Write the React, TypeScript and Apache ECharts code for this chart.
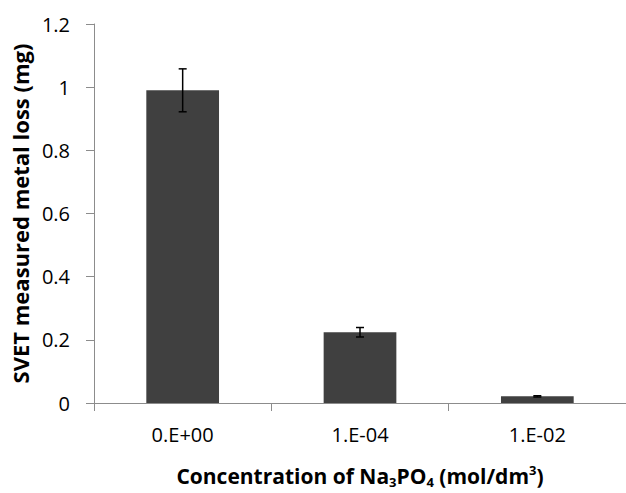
import React, { useEffect, useRef } from "react";
import * as echarts from "echarts";

const categories = ["0.E+00", "1.E-04", "1.E-02"];
const values = [0.99, 0.224, 0.021];
const errors = [0.068, 0.015, 0.002];
const yTicks = { min: 0, max: 1.2, interval: 0.2 };

export default function App() {
  const ref = useRef<HTMLDivElement>(null);
  useEffect(() => {
    if (!ref.current) return;
    const chart = echarts.init(ref.current, null, { renderer: "svg" });
    const errData = values.map((v, i) => [i, v - errors[i], v + errors[i]]);
    const font = "'Open Sans', 'Liberation Sans', sans-serif";
    chart.setOption({
      animation: false,
      backgroundColor: "#ffffff",
      grid: { left: 94, top: 24, right: -10, bottom: 80, containLabel: false },
      xAxis: {
        type: "category",
        data: categories,
        axisLine: { show: true, lineStyle: { color: "#8c8c8c", width: 1 } },
        axisTick: { show: true, length: 8, lineStyle: { color: "#8c8c8c" } },
        axisLabel: { color: "#000", fontSize: 20, fontFamily: font, margin: 21 },
        name: "{a|Concentration of Na}{s|3}{a|PO}{s|4}{a| (mol/dm}{p|3}{a|)}",
        nameLocation: "middle",
        nameGap: 60,
        nameTextStyle: {
          rich: {
            a: { fontSize: 21, fontWeight: "bold", fontFamily: font, color: "#000" },
            s: { fontSize: 13, fontWeight: "bold", fontFamily: font, color: "#000", verticalAlign: "bottom", padding: [12, 0, 0, 0] },
            p: { fontSize: 13, fontWeight: "bold", fontFamily: font, color: "#000", verticalAlign: "top", padding: [0, 0, 10, 0] },
          },
        },
      },
      yAxis: {
        type: "value",
        min: yTicks.min,
        max: yTicks.max,
        interval: yTicks.interval,
        splitLine: { show: false },
        axisLine: { show: true, lineStyle: { color: "#8c8c8c", width: 1 } },
        axisTick: { show: true, length: 8, lineStyle: { color: "#8c8c8c" } },
        axisLabel: { color: "#000", fontSize: 20, fontFamily: font, margin: 24 },
        name: "SVET measured metal loss (mg)",
        nameLocation: "middle",
        nameGap: 62,
        nameTextStyle: { fontSize: 22, fontWeight: "bold", fontFamily: font, color: "#000" },
      },
      series: [
        {
          type: "bar",
          data: values,
          barWidth: "41%",
          itemStyle: { color: "#404040" },
        },
        {
          type: "custom",
          data: errData,
          z: 10,
          renderItem: (params: any, api: any) => {
            const i = api.value(0);
            const lo = api.coord([i, api.value(1)]);
            const hi = api.coord([i, api.value(2)]);
            const w = 4;
            const style = { stroke: "#000", lineWidth: 1.5 };
            return {
              type: "group",
              children: [
                { type: "line", shape: { x1: hi[0], y1: hi[1], x2: lo[0], y2: lo[1] }, style },
                { type: "line", shape: { x1: hi[0] - w, y1: hi[1], x2: hi[0] + w, y2: hi[1] }, style },
                { type: "line", shape: { x1: lo[0] - w, y1: lo[1], x2: lo[0] + w, y2: lo[1] }, style },
              ],
            };
          },
        },
      ],
    });
    return () => chart.dispose();
  }, []);
  return <div ref={ref} style={{ position: "fixed", left: 0, top: 0, width: 626, height: 493 }} />;
}
